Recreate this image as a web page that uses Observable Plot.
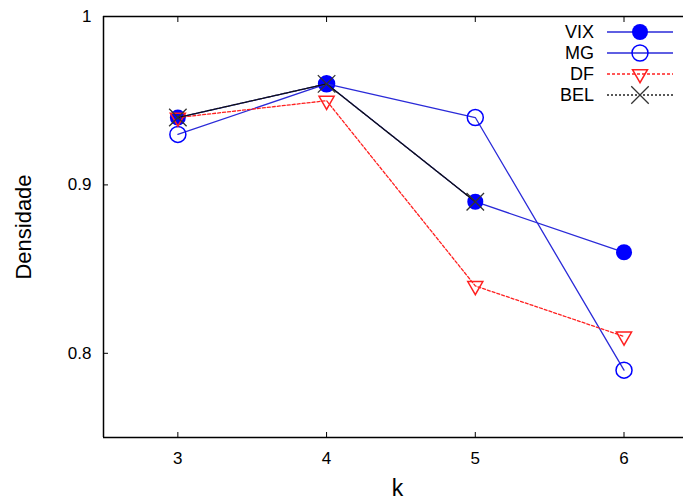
<!DOCTYPE html>
<html>
<head>
<meta charset="utf-8">
<script src="https://cdn.jsdelivr.net/npm/d3@7"></script>
<script src="https://cdn.jsdelivr.net/npm/@observablehq/plot@0.6"></script>
<style>
  html, body { margin: 0; padding: 0; background: #fff; overflow: hidden; }
  svg { font-family: "Liberation Sans", Arial, sans-serif; }
</style>
</head>
<body>
<div id="chart"></div>
<script>
const kValues = [3, 4, 5, 6];
const vix = [0.94, 0.96, 0.89, 0.86];
const mg = [0.93, 0.96, 0.94, 0.79];
const df = [0.94, 0.95, 0.84, 0.81];
const belK = [3, 4, 5];
const bel = [0.94, 0.96, 0.89];
const xTicks = [3, 4, 5, 6];
const yTicks = [0.8, 0.9, 1];
const yTickLabels = ["0.8", "0.9", "1"];
const seriesNames = ["VIX", "MG", "DF", "BEL"];

const toRows = (ks, vs) => ks.map((k, i) => ({k, v: vs[i]}));
const vixRows = toRows(kValues, vix);
const mgRows = toRows(kValues, mg);
const dfRows = toRows(kValues, df);
const belRows = toRows(belK, bel);

const BLUE_LINE = "#2a2ad8";
const BLUE = "#0000ff";
const RED = "#ff2020";
const BLACK = "#111";

function legend(index, scales, values, dimensions) {
  const g = d3.create("svg:g");
  const W = dimensions.width;
  const styles = [
    {line: BLUE_LINE, dash: null, marker: "fcircle"},
    {line: BLUE_LINE, dash: null, marker: "ocircle"},
    {line: RED, dash: "3,2", marker: "tri"},
    {line: "#222", dash: "2,2", marker: "times"}
  ];
  const rowY = [32, 53, 74, 95];
  seriesNames.forEach((name, i) => {
    const y = rowY[i];
    const s = styles[i];
    g.append("text").attr("x", W - 89).attr("y", y).attr("dy", "0.35em")
      .attr("text-anchor", "end").attr("font-size", 18).attr("fill", "#000").text(name);
    g.append("line").attr("x1", W - 76).attr("x2", W - 10).attr("y1", y).attr("y2", y)
      .attr("stroke", s.line).attr("stroke-width", 1.3).attr("stroke-dasharray", s.dash);
    const cx = W - 43;
    if (s.marker === "fcircle") {
      g.append("circle").attr("cx", cx).attr("cy", y).attr("r", 8).attr("fill", BLUE);
    } else if (s.marker === "ocircle") {
      g.append("circle").attr("cx", cx).attr("cy", y).attr("r", 8).attr("fill", "none").attr("stroke", BLUE).attr("stroke-width", 1.5);
    } else if (s.marker === "tri") {
      g.append("path").attr("d", d3.symbol(d3.symbolTriangle, 97)())
        .attr("transform", `translate(${cx},${y}) rotate(180)`)
        .attr("fill", "none").attr("stroke", RED).attr("stroke-width", 1.5);
    } else {
      g.append("path").attr("d", d3.symbol(d3.symbolTimes, 201)())
        .attr("transform", `translate(${cx},${y})`)
        .attr("fill", "none").attr("stroke", "#333").attr("stroke-width", 1.3);
    }
  });
  return g.node();
}

const chart = Plot.plot({
  width: 683,
  height: 503,
  marginLeft: 103,
  marginRight: 0,
  marginTop: 16,
  marginBottom: 66,
  style: {fontFamily: "Liberation Sans, Arial, sans-serif", fontSize: "17px", color: "#000", background: "#fff"},
  x: {domain: [2.5, 6.4], axis: null},
  y: {domain: [0.75, 1], axis: null},
  marks: [
    Plot.text(xTicks, {x: d => d, frameAnchor: "bottom", text: d => String(d), dy: 21, lineAnchor: "middle", textAnchor: "middle", fontSize: 17, fill: "#000"}),
    Plot.text(yTicks, {y: d => d, frameAnchor: "left", text: (d, i) => yTickLabels[i], dx: -12, textAnchor: "end", lineAnchor: "middle", fontSize: 17, fill: "#000"}),
    Plot.axisX(xTicks, {anchor: "bottom", tickSize: -5, tickFormat: () => "", label: null, stroke: "#000"}),
    Plot.axisX(xTicks, {anchor: "top", tickSize: -5, tickFormat: () => "", label: null, stroke: "#000"}),
    Plot.axisY(yTicks, {tickSize: -5, tickFormat: () => "", label: null, stroke: "#000"}),
    Plot.text(["Densidade"], {frameAnchor: "left", text: d => d, rotate: -90, dx: -80, textAnchor: "middle", lineAnchor: "middle", fontSize: 22, fill: "#000"}),
    Plot.text(["k"], {frameAnchor: "bottom", text: d => d, dy: 51, dx: 4, textAnchor: "middle", lineAnchor: "middle", fontSize: 23, fill: "#000"}),
    Plot.ruleY([0.75, 1], {stroke: "#000", strokeWidth: 1.5}),
    Plot.ruleX([2.5], {stroke: "#000", strokeWidth: 1.5}),
    Plot.line(vixRows, {x: "k", y: "v", stroke: BLUE_LINE, strokeWidth: 1.3}),
    Plot.dot(vixRows, {x: "k", y: "v", r: 8, fill: BLUE, symbol: "circle"}),
    Plot.line(mgRows, {x: "k", y: "v", stroke: BLUE_LINE, strokeWidth: 1.3}),
    Plot.dot(mgRows, {x: "k", y: "v", r: 8, fill: "none", stroke: BLUE, strokeWidth: 1.5, symbol: "circle"}),
    Plot.line(dfRows, {x: "k", y: "v", stroke: RED, strokeWidth: 1.3, strokeDasharray: "3,2"}),
    Plot.dot(dfRows, {x: "k", y: "v", r: 5.6, fill: "none", stroke: RED, strokeWidth: 1.5, symbol: "triangle", rotate: 180}),
    Plot.line(belRows, {x: "k", y: "v", stroke: BLACK, strokeWidth: 1.3, strokeDasharray: "2,1"}),
    Plot.dot(belRows, {x: "k", y: "v", r: 8, fill: "none", stroke: "#333", strokeWidth: 1.3, symbol: "times"}),
    legend
  ]
});
document.getElementById("chart").appendChild(chart);
</script>
</body>
</html>
